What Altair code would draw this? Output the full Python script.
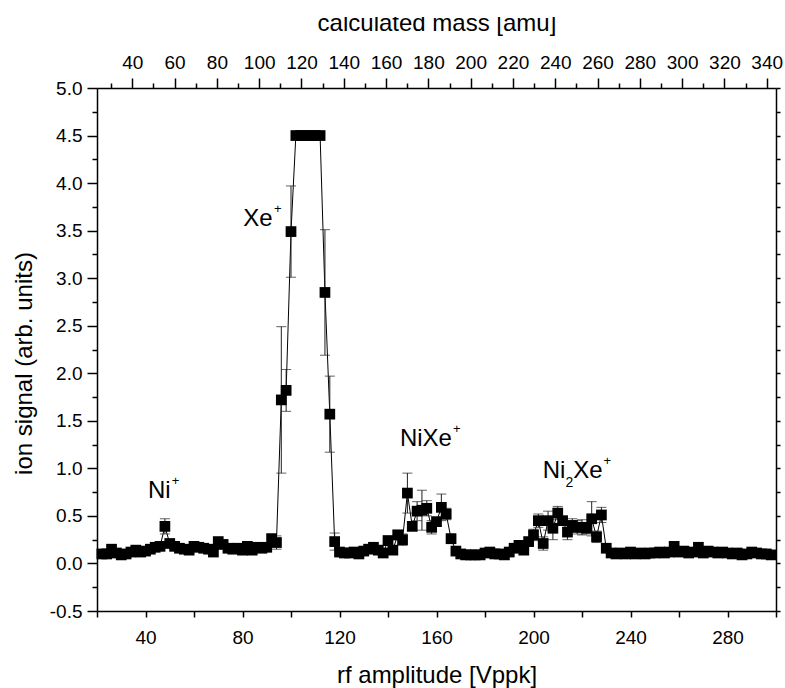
import altair as alt
import pandas as pd

FONT = "Liberation Sans"

# ---------------- data ----------------
rf_amplitude = [
    22, 24, 26, 28, 30, 32, 34, 36, 38, 40,
    42, 44, 46, 48, 50, 52, 54, 56, 58, 60,
    62, 64, 66, 68, 70, 72, 74, 76, 78, 80,
    82, 84, 86, 88, 90, 92, 94, 96, 98, 100,
    102, 104, 106, 108, 110, 112, 114, 116, 118, 120,
    122, 124, 126, 128, 130, 132, 134, 136, 138, 140,
    142, 144, 146, 148, 150, 152, 154, 156, 158, 160,
    162, 164, 166, 168, 170, 172, 174, 176, 178, 180,
    182, 184, 186, 188, 190, 192, 194, 196, 198, 200,
    202, 204, 206, 208, 210, 212, 214, 216, 218, 220,
    222, 224, 226, 228, 230, 232, 234, 236, 238, 240,
    242, 244, 246, 248, 250, 252, 254, 256, 258, 260,
    262, 264, 266, 268, 270, 272, 274, 276, 278, 280,
    282, 284, 286, 288, 290, 292, 294, 296, 298,
]
ion_signal = [
    0.10, 0.10, 0.15, 0.11, 0.09, 0.10, 0.12, 0.14, 0.12, 0.13,
    0.15, 0.17, 0.18, 0.39, 0.21, 0.18, 0.16, 0.15, 0.14, 0.18,
    0.17, 0.16, 0.15, 0.12, 0.23, 0.20, 0.16, 0.15, 0.16, 0.14,
    0.18, 0.14, 0.17, 0.16, 0.17, 0.26, 0.22, 1.72, 1.82, 3.49,
    4.50, 4.50, 4.50, 4.50, 4.50, 4.50, 2.85, 1.57, 0.23, 0.12,
    0.11, 0.11, 0.12, 0.10, 0.13, 0.15, 0.17, 0.14, 0.11, 0.24,
    0.14, 0.30, 0.25, 0.74, 0.39, 0.55, 0.56, 0.58, 0.38, 0.44,
    0.59, 0.52, 0.26, 0.13, 0.10, 0.09, 0.09, 0.09, 0.09, 0.11,
    0.12, 0.10, 0.10, 0.09, 0.12, 0.16, 0.19, 0.14, 0.23, 0.30,
    0.45, 0.21, 0.45, 0.37, 0.53, 0.45, 0.33, 0.40, 0.38, 0.38,
    0.37, 0.47, 0.28, 0.51, 0.16, 0.11, 0.10, 0.11, 0.10, 0.12,
    0.10, 0.11, 0.10, 0.11, 0.11, 0.12, 0.11, 0.12, 0.18, 0.12,
    0.13, 0.11, 0.12, 0.17, 0.11, 0.13, 0.12, 0.11, 0.12, 0.11,
    0.10, 0.11, 0.09, 0.10, 0.12, 0.11, 0.10, 0.10, 0.09,
]

# visible error bars: position and half-length
err_x = [48, 92, 94, 96, 98, 100, 114, 116, 118, 140, 144, 146, 148, 152, 154,
         156, 158, 162, 164, 166, 200, 202, 204, 206, 208, 210, 214, 216, 218,
         220, 222, 224, 226, 228]
err_half = [0.08, 0.05, 0.07, 0.77, 0.22, 0.48, 0.66, 0.40, 0.09, 0.05, 0.05, 0.06,
            0.21, 0.10, 0.21, 0.08, 0.07, 0.14, 0.06, 0.05, 0.06, 0.07, 0.07, 0.10,
            0.12, 0.07, 0.08, 0.07, 0.07, 0.08, 0.06, 0.18, 0.06, 0.08]

# axis tick values
bottom_ticks = [20, 40, 60, 80, 100, 120, 140, 160, 180, 200, 220, 240, 260, 280, 300]
y_major = [-0.5, 0.0, 0.5, 1.0, 1.5, 2.0, 2.5, 3.0, 3.5, 4.0, 4.5, 5.0]
y_minor = [-0.25, 0.25, 0.75, 1.25, 1.75, 2.25, 2.75, 3.25, 3.75, 4.25, 4.75]
y_all = sorted(y_major + y_minor)
mass_major = [40, 60, 80, 100, 120, 140, 160, 180, 200, 220, 240, 260, 280, 300, 320, 340]
mass_minor = [30, 50, 70, 90, 110, 130, 150, 170, 190, 210, 230, 250, 270, 290, 310, 330]

# peak labels (text, rf amplitude, ion signal) and their super/subscripts
label_text = ["Ni", "Xe", "NiXe", "Ni", "Xe"]
label_x = [41.0, 80.3, 144.9, 203.8, 216.4]
label_y = [0.685, 3.549, 1.235, 0.902, 0.902]
sup_text = ["+", "+", "+", "+"]
sup_x = [50.8, 93.0, 166.8, 228.9]
sup_y = [0.822, 3.686, 1.372, 1.039]
sub_text = ["2"]
sub_x = [213.2]
sub_y = [0.807]

X_DOM = [20, 300]
Y_DOM = [-0.5, 5.0]
M_DOM = [23.3, 344.4]

# ---------------- tables ----------------
df = pd.DataFrame({"V": rf_amplitude, "signal": ion_signal})
edf = pd.DataFrame({"V": err_x, "half": err_half}).merge(df, on="V")
edf["lo"] = edf["signal"] - edf["half"]
edf["hi"] = edf["signal"] + edf["half"]
lab = pd.DataFrame({"t": label_text, "V": label_x, "y": label_y})
sup = pd.DataFrame({"t": sup_text, "V": sup_x, "y": sup_y})
sub = pd.DataFrame({"t": sub_text, "V": sub_x, "y": sub_y})
mass_df = pd.DataFrame({"mass": mass_major})

xs = alt.Scale(domain=X_DOM, nice=False, zero=False)
ys = alt.Scale(domain=Y_DOM, nice=False, zero=False)
ms = alt.Scale(domain=M_DOM, nice=False, zero=False)


def xq(field):
    return alt.X(f"{field}:Q", scale=xs, axis=None)


def yq(field):
    return alt.Y(f"{field}:Q", scale=ys, axis=None)


x_axis = alt.Axis(
    orient="bottom", values=bottom_ticks,
    labelExpr="datum.value % 40 == 0 ? format(datum.value, 'd') : ''",
    tickSize=6, labelPadding=26, labelBaseline="alphabetic",
    title="rf amplitude [Vppk]", titleY=71, titleBaseline="alphabetic",
)
y_axis = alt.Axis(
    orient="left", values=y_major,
    labelExpr="datum.value < 0 ? '-' + format(-datum.value, '.1f') : format(datum.value, '.1f')",
    tickSize=10, labelPadding=5,
    title="ion signal (arb. units)", titleX=-66, titleY=275, titleAngle=270,
    titleBaseline="alphabetic",
)

ERR_COLOR = "#1e1e1e"

line = alt.Chart(df).mark_line(color="black", strokeWidth=1).encode(
    x=alt.X("V:Q", scale=xs, axis=x_axis),
    y=alt.Y("signal:Q", scale=ys, axis=y_axis),
)
rules = alt.Chart(edf).mark_rule(color=ERR_COLOR, strokeWidth=1).encode(
    x=xq("V"), y=yq("lo"), y2="hi:Q"
)
caps_lo = alt.Chart(edf).mark_tick(color=ERR_COLOR, orient="horizontal", size=10, thickness=1).encode(
    x=xq("V"), y=yq("lo")
)
caps_hi = alt.Chart(edf).mark_tick(color=ERR_COLOR, orient="horizontal", size=10, thickness=1).encode(
    x=xq("V"), y=yq("hi")
)
squares = alt.Chart(df).mark_square(size=115, color="black", opacity=1).encode(
    x=xq("V"), y=yq("signal")
)
labels = alt.Chart(lab).mark_text(align="left", baseline="alphabetic", fontSize=24, font=FONT, color="black").encode(
    x=xq("V"), y=yq("y"), text="t:N"
)
sups = alt.Chart(sup).mark_text(align="left", baseline="alphabetic", fontSize=13, font=FONT, color="black").encode(
    x=xq("V"), y=yq("y"), text="t:N"
)
subs = alt.Chart(sub).mark_text(align="left", baseline="alphabetic", fontSize=14, font=FONT, color="black").encode(
    x=xq("V"), y=yq("y"), text="t:N"
)
y_minor_layer = alt.Chart(df).mark_point(opacity=0).encode(
    x=xq("V"),
    y=alt.Y("signal:Q", scale=ys, axis=alt.Axis(orient="left", values=y_minor, tickSize=5,
                                                labels=False, domain=False, title=None)),
)
y_right_layer = alt.Chart(df).mark_point(opacity=0).encode(
    x=xq("V"),
    y=alt.Y("signal:Q", scale=ys, axis=alt.Axis(orient="right", values=y_all, tickSize=4,
                                                labels=False, domain=True, title=None)),
)
top_major = alt.Chart(mass_df).mark_point(opacity=0).encode(
    x=alt.X("mass:Q", scale=ms, axis=alt.Axis(
        orient="top", values=mass_major, format="d", tickSize=10, labelPadding=10,
        labelBaseline="alphabetic", title="calculated mass [amu]", titleY=-58,
        titleBaseline="alphabetic")),
)
top_minor = alt.Chart(mass_df).mark_point(opacity=0).encode(
    x=alt.X("mass:Q", scale=ms, axis=alt.Axis(
        orient="top", values=mass_minor, tickSize=5, labels=False, domain=False, title=None)),
)
# the reference picture is cropped just above the x-height of the top title
mask = alt.Chart(alt.Data(values=[{"m": 1}])).mark_rect(color="white").encode(
    x=alt.value(170), x2=alt.value(510), y=alt.value(-90), y2=alt.value(-71)
)

chart = (
    alt.layer(line, rules, caps_lo, caps_hi, squares, labels, sups, subs,
              y_minor_layer, y_right_layer, top_major, top_minor, mask)
    .resolve_scale(x="independent", y="independent")
    .properties(
        width=679, height=523,
        autosize=alt.AutoSizeParams(type="none"),
        padding={"left": 97, "top": 88, "right": 9, "bottom": 77},
        background="white",
    )
    .configure_axis(
        labelFont=FONT, labelFontSize=19, labelColor="black",
        titleFont=FONT, titleFontSize=24, titleFontWeight="normal", titleColor="black",
        domainColor="black", tickColor="black", domainWidth=1.5, tickWidth=1.5,
        grid=False, labelFlush=False, labelOverlap=False,
    )
    .configure_view(stroke=None)
)

chart.save("out.html", embed_options={"renderer": "svg", "actions": False})
